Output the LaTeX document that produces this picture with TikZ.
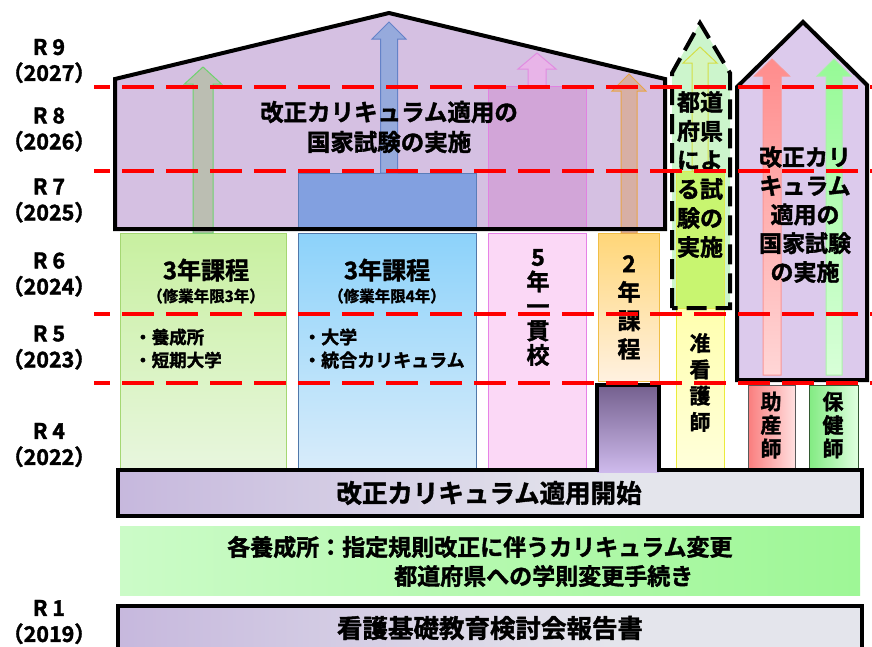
\documentclass[tikz,border=0pt]{standalone}
\usepackage{fontspec}
\setmainfont{Noto Sans CJK JP}[BoldFont={Noto Sans CJK JP Bold}, BoldFeatures={FakeBold=1.6}]
\definecolor{houseC}{RGB}{213,192,226}
\definecolor{rhouseC}{RGB}{220,202,236}
\definecolor{prefC}{RGB}{204,245,204}
\definecolor{redL}{RGB}{255,0,0}
\definecolor{barL}{RGB}{176,150,210}
\definecolor{barR}{RGB}{228,229,236}
\definecolor{grL}{RGB}{226,253,224}
\definecolor{grR}{RGB}{135,245,125}
\pgfdeclarehorizontalshading{barsh}{100bp}{color(0bp)=(barL); color(58bp)=(barR); color(100bp)=(barR)}
\pgfdeclarehorizontalshading{grsh}{100bp}{color(0bp)=(grL); color(100bp)=(grR)}
\newcommand\myuparrow[7]{%
  \path[#7] (#1-#4,#2) -- (#1-#4,#6) -- (#1-#5,#6) -- (#1,#3) -- (#1+#5,#6) -- (#1+#4,#6) -- (#1+#4,#2) -- cycle;}
\tikzset{
  txt/.style={inner sep=0pt, align=center, text=black},
  yr/.style={txt, font={\bfseries\fontsize{21.5}{26}\selectfont}},
  ttl/.style={txt, font={\bfseries\fontsize{23.5}{30}\selectfont}},
  sub/.style={txt, font={\bfseries\fontsize{15.5}{18}\selectfont}},
  bul/.style={txt, align=left, font={\bfseries\fontsize{17.5}{23}\selectfont}},
  outl/.style={draw=black, line width=4pt, line join=miter},
  reddash/.style={draw=redL, line width=4pt, dash pattern=on 32pt off 12pt, dash phase=16pt},
}
\begin{document}
\begin{tikzpicture}[x=1pt,y=-1pt]
\useasboundingbox (0,0) rectangle (872,646);
\clip (0,0) rectangle (872,646);

% ---------- left house ----------
\fill[houseC] (115,229) -- (115,79) -- (389,13) -- (665,79) -- (665,229) -- cycle;
\draw[fill={rgb,255:red,130;green,160;blue,224}, draw={rgb,255:red,90;green,125;blue,185}, line width=1pt] (298,173) rectangle (476,229);
\draw[fill={rgb,255:red,210;green,165;blue,216}, draw={rgb,255:red,225;green,130;blue,225}, line width=1pt] (488,86) rectangle (586,229);

% ---------- lower columns ----------
\draw[top color={rgb,255:red,200;green,240;blue,160}, bottom color={rgb,255:red,232;green,246;blue,222}, draw={rgb,255:red,165;green,215;blue,115}, line width=1pt] (120,233) rectangle (286,469);
\draw[top color={rgb,255:red,140;green,210;blue,250}, bottom color={rgb,255:red,216;green,236;blue,250}, draw={rgb,255:red,80;green,120;blue,170}, line width=1pt] (298,233) rectangle (476,469);
\draw[fill={rgb,255:red,251;green,216;blue,246}, draw={rgb,255:red,230;green,130;blue,230}, line width=1pt] (488,233) rectangle (586,469);
\draw[top color={rgb,255:red,255;green,214;blue,120}, bottom color={rgb,255:red,255;green,241;blue,224}, draw={rgb,255:red,240;green,190;blue,70}, line width=1pt] (598,233) rectangle (659,381);
\draw[top color={rgb,255:red,255;green,255;blue,175}, bottom color={rgb,255:red,255;green,255;blue,218}, draw={rgb,255:red,235;green,235;blue,60}, line width=1pt] (676,308) rectangle (724,469);
\draw[left color={rgb,255:red,250;green,125;blue,125}, right color={rgb,255:red,255;green,224;blue,224}, draw={rgb,255:red,90;green,90;blue,90}, line width=1pt] (748,385) rectangle (795,469);
\draw[left color={rgb,255:red,130;green,235;blue,130}, right color={rgb,255:red,224;green,255;blue,224}, draw={rgb,255:red,50;green,90;blue,50}, line width=1pt] (809,385) rectangle (858,469);

% ---------- arrows in left house ----------
\myuparrow{203}{233}{67}{10}{18.5}{84}{fill={rgb,255:red,187;green,190;blue,178}, draw={rgb,255:red,110;green,210;blue,110}, line width=1pt}
\myuparrow{389}{173}{22}{8.5}{17}{39}{fill={rgb,255:red,150;green,170;blue,220}, draw={rgb,255:red,100;green,130;blue,200}, line width=1pt}
\myuparrow{537}{86}{53}{9}{19}{69}{fill={rgb,255:red,232;green,180;blue,232}, draw={rgb,255:red,225;green,140;blue,225}, line width=1pt}
\myuparrow{629}{233}{74}{8}{17}{91}{fill={rgb,255:red,215;green,175;blue,165}, draw={rgb,255:red,232;green,165;blue,70}, line width=1pt}

\node[ttl] (exam) at (389,127) {改正カリキュラム適用の\\国家試験の実施};
\draw[outl] (115,229) -- (115,79) -- (389,13) -- (665,79) -- (665,229) -- cycle;

% ---------- dashed prefecture shape ----------
\fill[prefC] (672,308) -- (672,73) -- (700,23) -- (730,73) -- (730,308) -- cycle;
\draw[fill={rgb,255:red,200;green,245;blue,112}, draw={rgb,255:red,225;green,235;blue,80}, line width=1pt] (676,171) rectangle (724,308);
\myuparrow{700}{171}{47}{8}{17}{63}{fill={rgb,255:red,212;green,245;blue,190}, draw={rgb,255:red,212;green,222;blue,70}, line width=1pt}
\node[ttl, font={\bfseries\fontsize{23}{29}\selectfont}] (pref) at (700,174.5) {都道\\府県\\によ\\る試\\験の\\実施};
\draw[line width=4pt, dash pattern=on 20pt off 9pt] (672,308) -- (672,73) -- (700,23) -- (730,73) -- (730,308) -- cycle;

% ---------- right house ----------
\fill[rhouseC] (737,380) -- (737,87) -- (803,22) -- (867,85) -- (867,380) -- cycle;
\myuparrow{772}{375}{59}{9}{17.5}{76}{top color={rgb,255:red,255;green,140;blue,140}, bottom color={rgb,255:red,255;green,214;blue,214}, draw={rgb,255:red,250;green,150;blue,150}, line width=1pt}
\myuparrow{834}{375}{59}{8}{17}{76}{top color={rgb,255:red,150;green,250;blue,150}, bottom color={rgb,255:red,216;green,255;blue,216}, draw={rgb,255:red,170;green,240;blue,170}, line width=1pt}
\node[ttl, font={\bfseries\fontsize{23}{28.75}\selectfont}] (rexam) at (805,214.5) {改正カリ\\キュラム\\適用の\\国家試験\\の実施};
\draw[outl] (737,380) -- (737,87) -- (803,22) -- (867,85) -- (867,380) -- cycle;

% ---------- bottom bars ----------
\shade[shading=barsh] (118,470) rectangle (862,516);
\shade[top color={rgb,255:red,116;green,96;blue,142}, bottom color={rgb,255:red,206;green,186;blue,236}] (597,385) rectangle (659,472);
\draw[outl] (118,470) -- (597,470) -- (597,385) -- (659,385) -- (659,470) -- (862,470) -- (862,516) -- (118,516) -- cycle;
\shade[shading=grsh] (120,526) rectangle (860,595);
\shade[shading=barsh] (118,606) rectangle (862,660);
\draw[outl] (118,606) rectangle (862,660);

% ---------- texts ----------
\node[txt, font={\bfseries\fontsize{24}{28}\selectfont}] (c3a) at (206,270) {3年課程};
\node[sub] (c3as) at (206,296) {（修業年限3年）};
\node[bul, anchor=west] (c3ab) at (134,348.5) {・養成所\\・短期大学};
\node[txt, font={\bfseries\fontsize{24}{28}\selectfont}] (c3b) at (387,270) {3年課程};
\node[sub] (c3bs) at (387,296) {（修業年限4年）};
\node[bul, anchor=west, font={\bfseries\fontsize{18}{23}\selectfont}] (c3bb) at (303,348.5) {・大学\\・統合カリキュラム};
\node[txt, font={\bfseries\fontsize{23}{24.5}\selectfont}] (c5) at (538,307.5) {5\\年\\一\\貫\\校};
\node[txt, font={\bfseries\fontsize{23}{28.5}\selectfont}] (c2) at (629,307.5) {2\\年\\課\\程};
\node[txt, font={\bfseries\fontsize{21}{26.3}\selectfont}] (jun) at (700,382.5) {准\\看\\護\\師};
\node[txt, font={\bfseries\fontsize{21}{23.5}\selectfont}] (jos) at (771,425) {助\\産\\師};
\node[txt, font={\bfseries\fontsize{21}{23.5}\selectfont}] (hok) at (833,425) {保\\健\\師};
\node[txt, font={\bfseries\fontsize{25.5}{30}\selectfont}] (start) at (489,493) {改正カリキュラム適用開始};
\node[txt, anchor=west, font={\bfseries\fontsize{23}{28}\selectfont}] (each1) at (227,547) {各養成所：指定規則改正に伴うカリキュラム変更};
\node[txt, anchor=west, font={\bfseries\fontsize{23}{28}\selectfont}] (each2) at (394,576) {都道府県への学則変更手続き};
\node[txt, font={\bfseries\fontsize{25.5}{30}\selectfont}] (rep) at (490,628) {看護基礎教育検討会報告書};

% ---------- year labels ----------
\node[yr] (r9) at (49,61) {R 9\\（2027）};
\node[yr] (r8) at (49,129.5) {R 8\\（2026）};
\node[yr] (r7) at (49,200.5) {R 7\\（2025）};
\node[yr] (r6) at (49,274.5) {R 6\\（2024）};
\node[yr] (r5) at (49,347.5) {R 5\\（2023）};
\node[yr] (r4) at (49,445) {R 4\\（2022）};
\node[yr] (r1) at (49,622) {R 1\\（2019）};

% ---------- red dashed year lines ----------
\coordinate (l1a) at (94,87);  \coordinate (l1b) at (872,87);
\coordinate (l2a) at (94,171); \coordinate (l2b) at (872,171);
\coordinate (l3a) at (94,314); \coordinate (l3b) at (872,314);
\coordinate (l4a) at (94,383); \coordinate (l4b) at (872,383);
\draw[reddash] (l1a) -- (l1b);
\draw[reddash] (l2a) -- (l2b);
\draw[reddash] (l3a) -- (l3b);
\draw[reddash] (l4a) -- (l4b);
\end{tikzpicture}
\end{document}
